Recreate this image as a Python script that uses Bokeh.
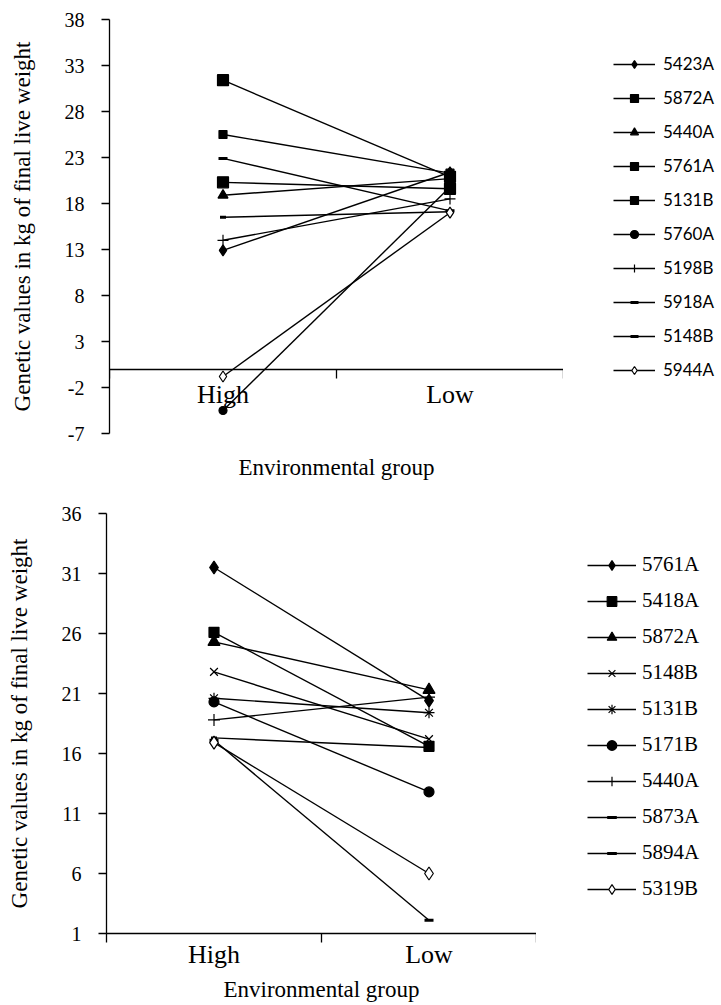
from bokeh.plotting import figure
from bokeh.layouts import column, row
from bokeh.models import (Range1d, LinearAxis, FixedTicker, Legend, LegendItem)
from bokeh.embed import file_html
from bokeh.resources import INLINE

# ---------------- data ----------------
groups = ["High", "Low"]

top_ticks = [-7, -2, 3, 8, 13, 18, 23, 28, 33, 38]
top_lines = ["5423A", "5872A", "5440A", "5761A", "5131B",
             "5760A", "5198B", "5918A", "5148B", "5944A"]
top_high = [12.9, 25.5, 18.9, 31.4, 20.3, -4.5, 14.0, 16.5, 22.9, -0.8]
top_low = [21.4, 21.3, 20.7, 20.9, 19.6, 19.8, 18.5, 17.1, 17.2, 17.0]

bottom_ticks = [1, 6, 11, 16, 21, 26, 31, 36]
bottom_lines = ["5761A", "5418A", "5872A", "5148B", "5131B",
                "5171B", "5440A", "5873A", "5894A", "5319B"]
bottom_high = [31.5, 26.1, 25.3, 22.8, 20.6, 20.3, 18.8, 17.3, 17.1, 16.9]
bottom_low = [20.4, 16.6, 21.3, 17.2, 19.4, 12.8, 20.7, 16.5, 2.1, 6.0]

y_title = "Genetic values in kg of final live weight"
x_title = "Environmental group"

# ---------------- styles ----------------
top_styles = [
    dict(marker="diamond", size=11, fill="black"),
    dict(marker="square", size=8, fill="black"),
    dict(marker="triangle", size=10, fill="black"),
    dict(marker="square", size=11, fill="black"),
    dict(marker="square", size=11, fill="black"),
    dict(marker="circle", size=8, fill="black"),
    dict(marker="cross", size=11, fill="black"),
    dict(marker="dash", size=6, fill="black", lw=3),
    dict(marker="dash", size=9, fill="black", lw=3),
    dict(marker="diamond", size=11, fill="white"),
]
bottom_styles = [
    dict(marker="diamond", size=13, fill="black"),
    dict(marker="square", size=10, fill="black"),
    dict(marker="triangle", size=12, fill="black"),
    dict(marker="x", size=11, fill="black"),
    dict(marker="asterisk", size=11, fill="black"),
    dict(marker="circle", size=10, fill="black"),
    dict(marker="cross", size=12, fill="black"),
    dict(marker="dash", size=6, fill="black", lw=3),
    dict(marker="dash", size=9, fill="black", lw=3),
    dict(marker="diamond", size=13, fill="white"),
]

SERIF = "Liberation Serif"
W = 719


def make_chart(height, left, top, frame_h, frame_w, ticks, names, high, low,
               styles, fixed_zero, legend_font, legend_font_size,
               legend_loc, glyph_w, glyph_h, spacing, standoff_lbl,
               cat_standoff, title_standoff):
    n = len(groups)
    centers = [i + 0.5 for i in range(n)]
    pos = dict(zip(groups, centers))
    xs = [pos[g] for g in groups]

    p = figure(width=left + frame_w, height=height,
               x_range=Range1d(0, n),
               y_range=Range1d(ticks[0], ticks[-1]),
               x_axis_location=None,
               output_backend="svg", toolbar_location=None,
               min_border_left=left, min_border_right=0,
               min_border_top=top,
               min_border_bottom=height - top - frame_h)
    p.outline_line_color = None
    p.grid.visible = False
    p.background_fill_color = "white"
    p.border_fill_color = "white"

    # y axis
    ya = p.yaxis[0]
    ya.ticker = FixedTicker(ticks=ticks)
    ya.major_label_overrides = {t: str(t) for t in ticks}
    ya.major_tick_out = 8
    ya.major_tick_in = 0
    ya.minor_tick_line_color = None
    ya.axis_line_color = "black"
    ya.axis_line_width = 1.3
    ya.major_tick_line_width = 1.3
    ya.major_label_text_font = SERIF
    ya.major_label_text_font_size = "20px"
    ya.major_label_text_color = "black"
    ya.major_label_standoff = 17
    ya.axis_label = y_title
    ya.axis_label_text_font = SERIF
    ya.axis_label_text_font_size = "23px"
    ya.axis_label_text_font_style = "normal"
    ya.axis_label_text_color = "black"
    ya.axis_label_standoff = 27

    # category axis with boundary tick marks (Excel style)
    cat = LinearAxis(ticker=FixedTicker(ticks=centers,
                                        minor_ticks=list(range(n + 1))),
                     major_label_overrides={c: g for c, g in zip(centers, groups)},
                     major_tick_out=0, major_tick_in=0,
                     minor_tick_out=9, minor_tick_in=0,
                     minor_tick_line_color="black", minor_tick_line_width=1.3,
                     axis_line_color="black", axis_line_width=1.3,
                     major_label_text_font=SERIF,
                     major_label_text_font_size="26px",
                     major_label_text_color="black",
                     major_label_standoff=cat_standoff)
    if fixed_zero:
        cat.fixed_location = 0
        p.add_layout(cat, "below")
        ttl = LinearAxis(ticker=FixedTicker(ticks=[]),
                         axis_line_color=None, major_tick_out=0,
                         major_tick_in=0, minor_tick_out=0, minor_tick_in=0,
                         major_label_standoff=0)
        p.add_layout(ttl, "below")
    else:
        p.add_layout(cat, "below")
        ttl = cat
    ttl.axis_label = x_title
    ttl.axis_label_text_font = SERIF
    ttl.axis_label_text_font_size = "23px"
    ttl.axis_label_text_font_style = "normal"
    ttl.axis_label_text_color = "black"
    ttl.axis_label_standoff = title_standoff

    for h, l, st in zip(high, low, styles):
        ys = [h, l]
        p.line(xs, ys, line_color="black", line_width=1.4)
        p.scatter(xs, ys, marker=st["marker"], size=st["size"],
                  fill_color=st["fill"], line_color="black",
                  line_width=st.get("lw", 1.2))

    # legend in its own panel to the right of the chart (its frame is
    # aligned with the chart frame by the row layout); the series are
    # re-used there only as legend keys, outside that panel's view range
    far = ticks[-1] + 1000
    lf = figure(width=W - left - frame_w, height=height,
                x_range=Range1d(far, far + 1), y_range=Range1d(far, far + 1),
                output_backend="svg", toolbar_location=None,
                x_axis_location=None, y_axis_location=None,
                min_border=0, min_border_left=0, min_border_right=0,
                min_border_top=0, min_border_bottom=0)
    lf.outline_line_color = None
    lf.grid.visible = False
    items = []
    for name, h, l, st in zip(names, high, low, styles):
        ys = [h, l]
        lr = lf.line(xs, ys, line_color="black", line_width=1.4)
        sr = lf.scatter(xs, ys, marker=st["marker"], size=st["size"],
                        fill_color=st["fill"], line_color="black",
                        line_width=st.get("lw", 1.2))
        items.append(LegendItem(label=name, renderers=[lr, sr]))
    leg = Legend(items=items, location=legend_loc,
                 border_line_alpha=0, background_fill_alpha=0,
                 padding=0, margin=0, spacing=spacing,
                 glyph_width=glyph_w, glyph_height=glyph_h,
                 label_height=glyph_h, label_standoff=standoff_lbl,
                 label_text_font=legend_font,
                 label_text_font_size=legend_font_size,
                 label_text_color="black")
    lf.add_layout(leg, "center")
    return row(p, lf)


c1 = make_chart(482, 109, 19, 414, 454, top_ticks, top_lines, top_high,
                top_low, top_styles, True, "Lato", "17px", (50, 53),
                42, 20, 13, 8, 2, 21)
c2 = make_chart(522, 106, 31, 420, 430, bottom_ticks, bottom_lines,
                bottom_high, bottom_low, bottom_styles, False, SERIF, "21px",
                (51, 32), 49, 24, 11, 6, -3, 5)

layout = column(c1, c2)
open("out.html", "w").write(file_html(layout, INLINE))
